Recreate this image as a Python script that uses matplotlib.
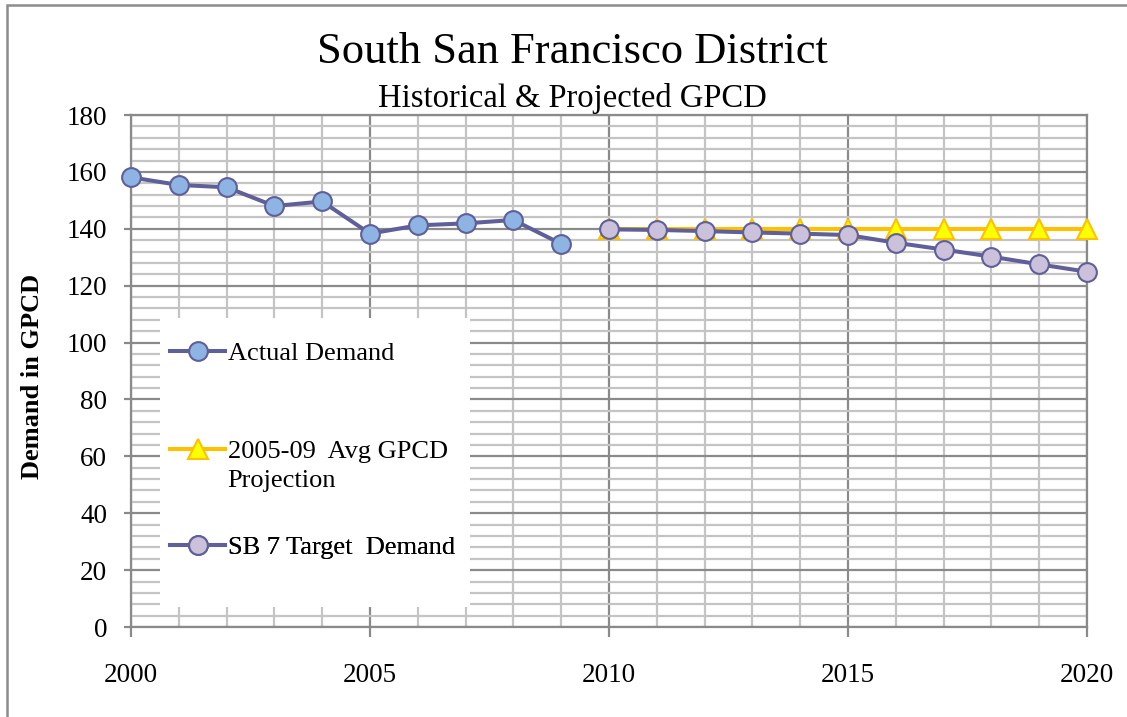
import matplotlib
matplotlib.use("Agg")
import matplotlib.pyplot as plt
from matplotlib.patches import Rectangle

actual_years = [2000, 2001, 2002, 2003, 2004, 2005, 2006, 2007, 2008, 2009]
actual_gpcd = [158.1, 155.4, 154.6, 148.0, 149.6, 138.3, 141.2, 141.9, 143.1, 134.7]

proj_years = [2010, 2011, 2012, 2013, 2014, 2015, 2016, 2017, 2018, 2019, 2020]
proj_gpcd = [139.8] * 11

target_years = [2010, 2011, 2012, 2013, 2014, 2015, 2016, 2017, 2018, 2019, 2020]
target_gpcd = [139.8, 139.6, 139.2, 138.7, 138.3, 137.8, 135.1, 132.7, 130.2, 127.5, 124.9]

labels = ["Actual Demand", "2005-09  Avg GPCD", "SB 7 Target  Demand"]

plt.rcParams['font.family'] = ['Liberation Serif', 'DejaVu Serif']

line_col = '#5f5f99'
fig = plt.figure(figsize=(11.27, 7.17), dpi=100)
ax = fig.add_axes([0.1162, 0.1255, 0.8483, 0.7141])

# outer chart border (left + top only visible)
fig.patches.append(Rectangle((0.0062, -0.1), 1.2, 1.093, transform=fig.transFigure,
                             fill=False, edgecolor='#8c8c8c', linewidth=1.8))

l1, = ax.plot(actual_years, actual_gpcd, color=line_col, lw=2.9, marker='o', ms=13.5,
              mfc='#8db4e2', mec=line_col, mew=1.5, zorder=6, clip_on=False)
l2, = ax.plot(proj_years, proj_gpcd, color='#ffc000', lw=2.9, marker='^', ms=15,
              mfc='#ffff00', mec='#ffc000', mew=1.5, zorder=5, clip_on=False)
l3, = ax.plot(target_years, target_gpcd, color=line_col, lw=2.9, marker='o', ms=13.5,
              mfc='#ccc1da', mec=line_col, mew=1.5, zorder=6, clip_on=False)

ax.set_xlim(2000, 2020)
ax.set_ylim(0, 180)
ax.set_xticks(range(2000, 2021, 5))
ax.set_xticks(range(2000, 2021), minor=True)
ax.set_yticks(range(0, 181, 20))
ax.set_yticks(range(0, 181, 4), minor=True)
ax.grid(which='minor', color='#c4c4c4', lw=1.6, zorder=0)
ax.grid(which='major', color='#8a8a8a', lw=1.6, zorder=1)
ax.set_axisbelow(True)
for s in ax.spines.values():
    s.set_color('#8a8a8a')
    s.set_linewidth(1.6)
ax.tick_params(which='minor', length=0)
ax.tick_params(axis='y', which='major', length=5, color='#8a8a8a', width=1.6,
               labelsize=19.5, pad=12)
ax.tick_params(axis='x', which='major', length=7, color='#8a8a8a', width=1.6,
               labelsize=19.5, pad=19)

ax.set_ylabel("Demand in GPCD", fontsize=19, fontweight='bold')
ax.yaxis.set_label_coords(-0.091, 0.49)

fig.text(0.508, 0.927, "South San Francisco District", fontsize=32, ha='center', va='center')
fig.text(0.508, 0.862, "Historical & Projected GPCD", fontsize=23.5, ha='center', va='center')

# legend: white box over the grid, one entry per legend
ax.add_patch(Rectangle((0.030, 0.039), 0.325, 0.565, transform=ax.transAxes,
                       facecolor='white', edgecolor='none', zorder=7))
handles = [l1, l2, l3]
ypos = [0.535, 0.343, 0.156]
for h, lab, yy in zip(handles, labels, ypos):
    lg = ax.legend([h], [lab], loc='center left', bbox_to_anchor=(0.0408, yy),
                   frameon=False, fontsize=19, handlelength=2.1, handletextpad=0.1,
                   borderpad=0, borderaxespad=0)
    lg.set_zorder(8)
    ax.add_artist(lg)
ax.text(0.101, 0.285, "Projection", transform=ax.transAxes, fontsize=19,
        ha='left', va='center', zorder=9)

fig.savefig("out.png", dpi=100)
